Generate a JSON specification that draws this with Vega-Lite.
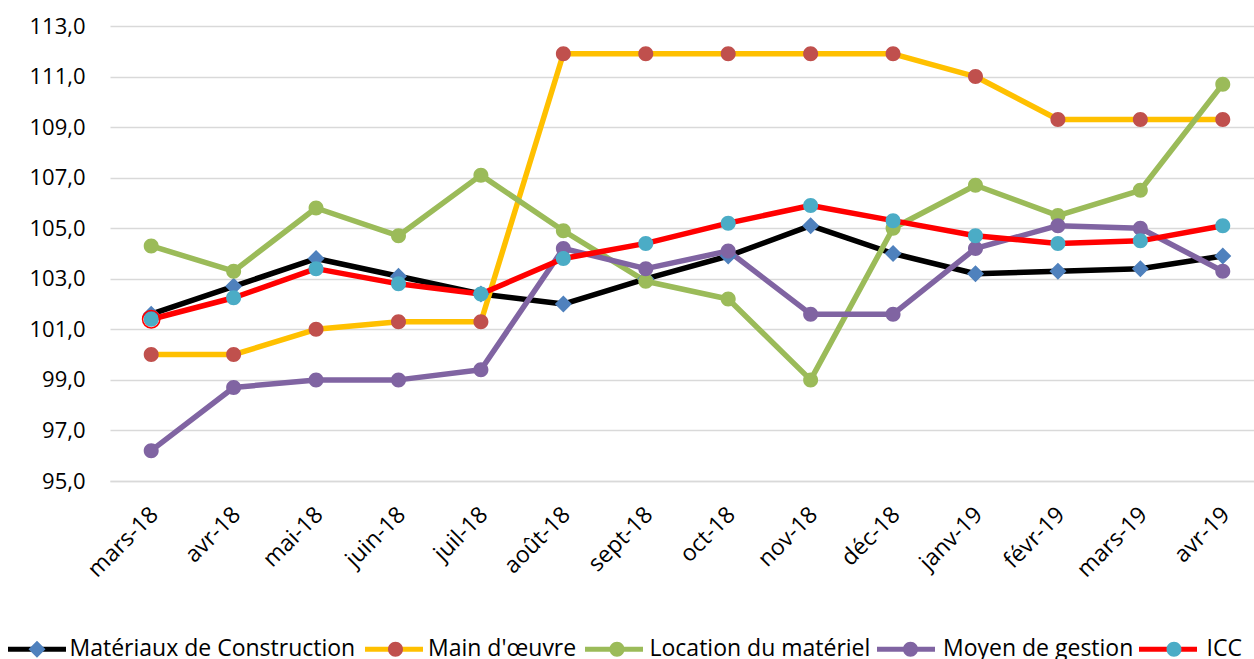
{
  "$schema": "https://vega.github.io/schema/vega-lite/v6.json",
  "autosize": "none",
  "padding": {"left": 110, "top": 26, "right": 0, "bottom": 178},
  "width": 1154,
  "height": 455,
  "background": "white",
  "config": {
    "view": {"stroke": null},
    "font": "Open Sans",
    "axis": {"labelFont": "Open Sans", "labelColor": "#000000", "labelFontSize": 22, "title": null},
    "legend": {"labelFont": "Open Sans", "labelColor": "#000000", "labelFontSize": 23, "labelLimit": 0}
  },
  "data": {
    "values": [
      {"mois": "mars-18", "serie": "Matériaux de Construction", "valeur": 101.6},
      {"mois": "avr-18", "serie": "Matériaux de Construction", "valeur": 102.7},
      {"mois": "mai-18", "serie": "Matériaux de Construction", "valeur": 103.8},
      {"mois": "juin-18", "serie": "Matériaux de Construction", "valeur": 103.1},
      {"mois": "juil-18", "serie": "Matériaux de Construction", "valeur": 102.4},
      {"mois": "août-18", "serie": "Matériaux de Construction", "valeur": 102.0},
      {"mois": "sept-18", "serie": "Matériaux de Construction", "valeur": 103.0},
      {"mois": "oct-18", "serie": "Matériaux de Construction", "valeur": 103.9},
      {"mois": "nov-18", "serie": "Matériaux de Construction", "valeur": 105.1},
      {"mois": "déc-18", "serie": "Matériaux de Construction", "valeur": 104.0},
      {"mois": "janv-19", "serie": "Matériaux de Construction", "valeur": 103.2},
      {"mois": "févr-19", "serie": "Matériaux de Construction", "valeur": 103.3},
      {"mois": "mars-19", "serie": "Matériaux de Construction", "valeur": 103.4},
      {"mois": "avr-19", "serie": "Matériaux de Construction", "valeur": 103.9},
      {"mois": "mars-18", "serie": "Main d'œuvre", "valeur": 100.0},
      {"mois": "avr-18", "serie": "Main d'œuvre", "valeur": 100.0},
      {"mois": "mai-18", "serie": "Main d'œuvre", "valeur": 101.0},
      {"mois": "juin-18", "serie": "Main d'œuvre", "valeur": 101.3},
      {"mois": "juil-18", "serie": "Main d'œuvre", "valeur": 101.3},
      {"mois": "août-18", "serie": "Main d'œuvre", "valeur": 111.9},
      {"mois": "sept-18", "serie": "Main d'œuvre", "valeur": 111.9},
      {"mois": "oct-18", "serie": "Main d'œuvre", "valeur": 111.9},
      {"mois": "nov-18", "serie": "Main d'œuvre", "valeur": 111.9},
      {"mois": "déc-18", "serie": "Main d'œuvre", "valeur": 111.9},
      {"mois": "janv-19", "serie": "Main d'œuvre", "valeur": 111.0},
      {"mois": "févr-19", "serie": "Main d'œuvre", "valeur": 109.3},
      {"mois": "mars-19", "serie": "Main d'œuvre", "valeur": 109.3},
      {"mois": "avr-19", "serie": "Main d'œuvre", "valeur": 109.3},
      {"mois": "mars-18", "serie": "Location du matériel", "valeur": 104.3},
      {"mois": "avr-18", "serie": "Location du matériel", "valeur": 103.3},
      {"mois": "mai-18", "serie": "Location du matériel", "valeur": 105.8},
      {"mois": "juin-18", "serie": "Location du matériel", "valeur": 104.7},
      {"mois": "juil-18", "serie": "Location du matériel", "valeur": 107.1},
      {"mois": "août-18", "serie": "Location du matériel", "valeur": 104.9},
      {"mois": "sept-18", "serie": "Location du matériel", "valeur": 102.9},
      {"mois": "oct-18", "serie": "Location du matériel", "valeur": 102.2},
      {"mois": "nov-18", "serie": "Location du matériel", "valeur": 99.0},
      {"mois": "déc-18", "serie": "Location du matériel", "valeur": 105.0},
      {"mois": "janv-19", "serie": "Location du matériel", "valeur": 106.7},
      {"mois": "févr-19", "serie": "Location du matériel", "valeur": 105.5},
      {"mois": "mars-19", "serie": "Location du matériel", "valeur": 106.5},
      {"mois": "avr-19", "serie": "Location du matériel", "valeur": 110.7},
      {"mois": "mars-18", "serie": "Moyen de gestion", "valeur": 96.2},
      {"mois": "avr-18", "serie": "Moyen de gestion", "valeur": 98.7},
      {"mois": "mai-18", "serie": "Moyen de gestion", "valeur": 99.0},
      {"mois": "juin-18", "serie": "Moyen de gestion", "valeur": 99.0},
      {"mois": "juil-18", "serie": "Moyen de gestion", "valeur": 99.4},
      {"mois": "août-18", "serie": "Moyen de gestion", "valeur": 104.2},
      {"mois": "sept-18", "serie": "Moyen de gestion", "valeur": 103.4},
      {"mois": "oct-18", "serie": "Moyen de gestion", "valeur": 104.1},
      {"mois": "nov-18", "serie": "Moyen de gestion", "valeur": 101.6},
      {"mois": "déc-18", "serie": "Moyen de gestion", "valeur": 101.6},
      {"mois": "janv-19", "serie": "Moyen de gestion", "valeur": 104.2},
      {"mois": "févr-19", "serie": "Moyen de gestion", "valeur": 105.1},
      {"mois": "mars-19", "serie": "Moyen de gestion", "valeur": 105.0},
      {"mois": "avr-19", "serie": "Moyen de gestion", "valeur": 103.3},
      {"mois": "mars-18", "serie": "ICC", "valeur": 101.4},
      {"mois": "avr-18", "serie": "ICC", "valeur": 102.25},
      {"mois": "mai-18", "serie": "ICC", "valeur": 103.4},
      {"mois": "juin-18", "serie": "ICC", "valeur": 102.8},
      {"mois": "juil-18", "serie": "ICC", "valeur": 102.4},
      {"mois": "août-18", "serie": "ICC", "valeur": 103.8},
      {"mois": "sept-18", "serie": "ICC", "valeur": 104.4},
      {"mois": "oct-18", "serie": "ICC", "valeur": 105.2},
      {"mois": "nov-18", "serie": "ICC", "valeur": 105.9},
      {"mois": "déc-18", "serie": "ICC", "valeur": 105.3},
      {"mois": "janv-19", "serie": "ICC", "valeur": 104.7},
      {"mois": "févr-19", "serie": "ICC", "valeur": 104.4},
      {"mois": "mars-19", "serie": "ICC", "valeur": 104.5},
      {"mois": "avr-19", "serie": "ICC", "valeur": 105.1}
    ]
  },
  "encoding": {
    "x": {
      "field": "mois",
      "type": "ordinal",
      "sort": ["mars-18","avr-18","mai-18","juin-18","juil-18","août-18","sept-18","oct-18","nov-18","déc-18","janv-19","févr-19","mars-19","avr-19"],
      "scale": {"type": "point", "padding": 0.5},
      "axis": {"labelAngle": -45, "labelPadding": 22, "labelOffset": -5, "labelFontSize": 23, "ticks": false, "tickSize": 0, "domain": true, "domainColor": "#d9d9d9", "domainWidth": 1.5, "grid": false}
    },
    "y": {
      "field": "valeur",
      "type": "quantitative",
      "scale": {"domain": [95, 113], "nice": false, "zero": false},
      "axis": {"values": [95,97,99,101,103,105,107,109,111,113], "labelExpr": "replace(format(datum.value, '.1f'), '.', ',')", "ticks": false, "tickSize": 0, "domain": false, "labelPadding": 25, "grid": true, "gridColor": "#d9d9d9", "gridWidth": 1.5}
    }
  },
  "layer": [
    {
      "mark": {"type": "line", "strokeWidth": 5.5, "strokeJoin": "round", "strokeCap": "round"},
      "encoding": {
        "stroke": {
          "field": "serie",
          "type": "nominal",
          "scale": {"domain": ["Matériaux de Construction","Main d'œuvre","Location du matériel","Moyen de gestion","ICC"], "range": ["#000000","#FFC000","#9BBB59","#8064A2","#FF0000"]},
          "legend": {"title": null, "orient": "none", "legendX": -104.5, "legendY": 591.5, "direction": "horizontal", "padding": 0, "zindex": 1, "symbolType": "stroke", "symbolSize": 3364, "symbolStrokeWidth": 5, "labelOffset": 1, "labelLimit": 0, "columnPadding": -1, "labelOpacity": 0}
        }
      }
    },
    {
      "mark": {"type": "point", "filled": true, "opacity": 1, "size": 3969, "strokeWidth": 0},
      "encoding": {
        "fill": {
          "field": "serie",
          "type": "nominal",
          "scale": {"domain": ["Matériaux de Construction","Main d'œuvre","Location du matériel","Moyen de gestion","ICC","·"], "range": ["#4F81BD","#C0504D","#9BBB59","#8064A2","#4BACC6","#FFFFFF"]},
          "legend": {"title": null, "values": ["Matériaux de Construction","Main d'œuvre","Location du matériel","Moyen de gestion","ICC"], "orient": "none", "legendX": -104.5, "legendY": 591.5, "direction": "horizontal", "padding": 0, "zindex": 2, "symbolSize": 3969, "symbolStrokeWidth": 0, "symbolOpacity": 1, "labelOffset": 1, "labelLimit": 0, "columnPadding": 8.5}
        },
        "shape": {
          "field": "serie",
          "type": "nominal",
          "scale": {"domain": ["Matériaux de Construction","Main d'œuvre","Location du matériel","Moyen de gestion","ICC","·"], "range": ["M-0.27,0L0,-0.27L0.27,0L0,0.27ZM-1,0L1,0", "M0.238,0A0.238,0.238,0,1,1,-0.238,0A0.238,0.238,0,1,1,0.238,0ZM-1,0L1,0", "M0.238,0A0.238,0.238,0,1,1,-0.238,0A0.238,0.238,0,1,1,0.238,0ZM-1,0L1,0", "M0.238,0A0.238,0.238,0,1,1,-0.238,0A0.238,0.238,0,1,1,0.238,0ZM-1,0L1,0", "M0.238,0A0.238,0.238,0,1,1,-0.238,0A0.238,0.238,0,1,1,0.238,0ZM-1,0L1,0", "M-1,0L1,0"]},
          "legend": {"title": null, "values": ["Matériaux de Construction","Main d'œuvre","Location du matériel","Moyen de gestion","ICC"], "orient": "none", "legendX": -104.5, "legendY": 591.5, "direction": "horizontal", "padding": 0, "zindex": 2, "symbolSize": 3969, "symbolStrokeWidth": 0, "symbolOpacity": 1, "labelOffset": 1, "labelLimit": 0, "columnPadding": 8.5}
        }
      }
    },
    {
      "transform": [{"filter": "datum.serie === 'ICC' && datum.mois === 'mars-18'"}],
      "mark": {"type": "point", "shape": "circle", "filled": false, "size": 300, "stroke": "#FF0000", "strokeWidth": 1.5, "opacity": 1}
    }
  ]
}
